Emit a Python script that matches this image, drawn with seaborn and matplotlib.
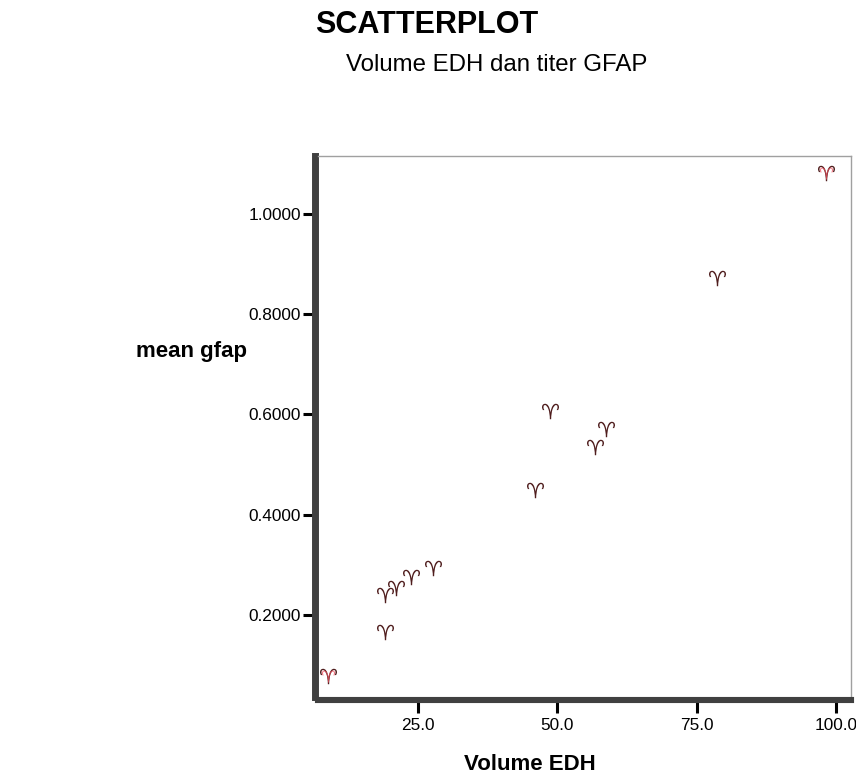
import matplotlib
matplotlib.use('Agg')
import matplotlib.pyplot as plt
import seaborn as sns
import pandas as pd
from matplotlib.ticker import FixedLocator, FormatStrFormatter

# ---- data ----
volume_edh = [8.85, 19.1, 19.1, 21.05, 23.7, 27.7, 46.0, 48.7, 56.8, 58.7, 78.6, 98.3]
mean_gfap = [0.078, 0.166, 0.240, 0.254, 0.275, 0.293, 0.449, 0.606, 0.536, 0.572, 0.873, 1.083]
n_cases = [2, 1, 1, 1, 1, 1, 1, 1, 1, 1, 1, 2]
x_ticks = [25.0, 50.0, 75.0, 100.0]
y_ticks = [0.2, 0.4, 0.6, 0.8, 1.0]
x_limits = [7.05, 102.7]
y_limits = [0.036, 1.116]

title = "SCATTERPLOT"
subtitle = "Volume EDH dan titer GFAP"
x_label = "Volume EDH"
y_label = "mean gfap"

sns.set_theme(style="white")
plt.rcParams['font.family'] = ['Liberation Sans', 'DejaVu Sans']

W, H = 856, 781
fig = plt.figure(figsize=(W / 100, H / 100), dpi=100)
fig.patch.set_facecolor('white')
ax = fig.add_axes([318 / W, 1 - 697 / H, (851 - 318) / W, (697 - 156) / H])

df = pd.DataFrame({"Volume EDH": volume_edh, "mean gfap": mean_gfap, "n": n_cases})
marker = "$\u2648$"
sns.scatterplot(data=df, x="Volume EDH", y="mean gfap", marker=marker, s=150,
                color="#4f1d1d", linewidth=0, ax=ax, zorder=3)
dup = df[df["n"] > 1]
sns.scatterplot(data=dup, x="Volume EDH", y="mean gfap", marker=marker, s=90,
                color="#f0505f", alpha=0.75, linewidth=0, ax=ax, zorder=4)

ax.set_xlim(*x_limits)
ax.set_ylim(*y_limits)
ax.xaxis.set_major_locator(FixedLocator(x_ticks))
ax.yaxis.set_major_locator(FixedLocator(y_ticks))
ax.xaxis.set_major_formatter(FormatStrFormatter('%.1f'))
ax.yaxis.set_major_formatter(FormatStrFormatter('%.4f'))

# frame: dark shadow bars at left/bottom, thin grey lines at top/right
ax.spines['left'].set_position(('outward', 2.5))
ax.spines['left'].set_linewidth(5.0)
ax.spines['left'].set_color('#404040')
ax.spines['bottom'].set_position(('outward', 2.2))
ax.spines['bottom'].set_linewidth(4.4)
ax.spines['bottom'].set_color('#404040')
for s in ('top', 'right'):
    ax.spines[s].set_linewidth(1.0)
    ax.spines[s].set_color('#a0a0a0')

ax.tick_params(axis='both', direction='out', length=9, width=2.2, color='black',
               labelsize=12.4, labelcolor='black', left=True, bottom=True)
ax.tick_params(axis='y', pad=0.8)
ax.tick_params(axis='x', pad=4)

ax.set_xlabel(x_label, fontsize=16, fontweight='bold', color='black')
ax.xaxis.set_label_coords((530 - 318) / (851 - 318), -(765 - 697) / (697 - 156))
ax.xaxis.label.set_va('center')
ax.set_ylabel(y_label, fontsize=16, fontweight='bold', color='black', rotation=0,
              ha='center', va='center')
ax.yaxis.set_label_coords((191 - 318) / (851 - 318), (697 - 352) / (697 - 156))

fig.text(427 / W, 1 - 33 / H, title, ha='center', va='baseline',
         fontsize=22, fontweight='bold', color='black')
fig.text(497 / W, 1 - 71 / H, subtitle, ha='center', va='baseline',
         fontsize=17.3, color='black')

fig.savefig("out.png", dpi=100, facecolor='white')
